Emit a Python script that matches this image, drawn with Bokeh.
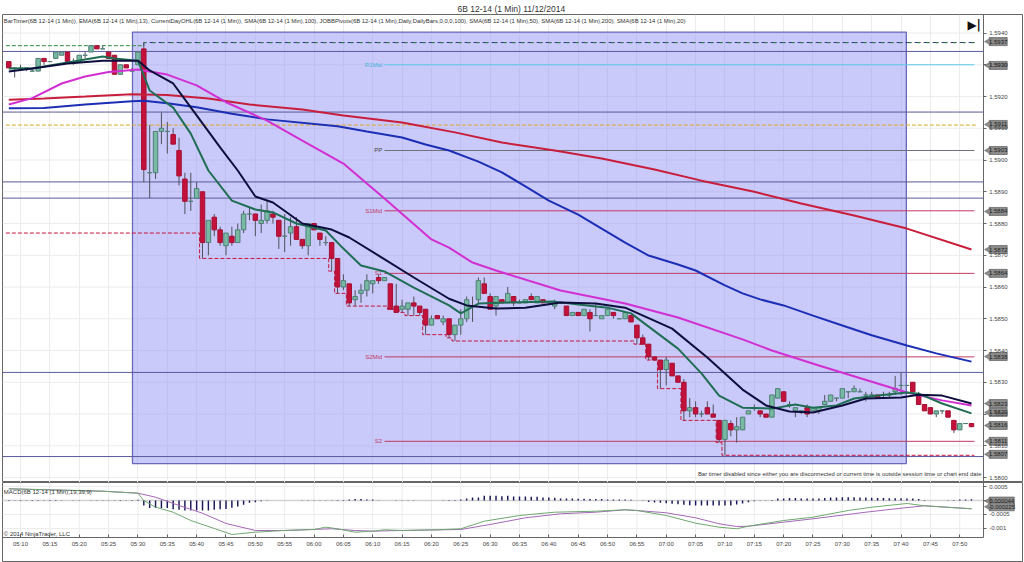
from math import pi
from bokeh.plotting import figure
from bokeh.layouts import column
from bokeh.models import ColumnDataSource, FixedTicker, LinearAxis, Range1d, Title, NumeralTickFormatter
from bokeh.core.properties import value
from bokeh.embed import file_html
from bokeh.resources import INLINE

# ---------- data: prices are in pips above 1.5800 ----------
BASE = 1.58
bar_open = [131,129,129,129,128,128,132,131,132,133,134,131,131,133,134,136,135,134,133,127,130,128,130,
 135,96,96,109,109,108,103,94,87,88,90,74,82,78,73,76,74,78,83,83,80,81,83,81,76,77,79,75,73,80,77,74,74,69,
 60,61,56,58,59,61,63,62,61,54,53,53,55,54,53,48,51,49,50,45,48,50,54,56,61,57,54,56,55,57,55,55,57,55,56,55,
 54,55,54,51,52,51,52,51,50,51,52,50,50,51,48,44,42,38,37,34,36,32,30,21,22,20,22,20,18,12,17,15,15,20,22,21,
 20,19,25,27,23,21,21,22,21,21,23,24,25,25,27,27,27,26,26,26,26,26,27,29,29,30,26,23,22,20,21,21,18,15,17,17]
bar_high = [131,129,130,129,129,132,132,131,134,134,134,132,133,134,136,136,136,134,133,130,130,129,134,
 137,111,109,115,112,110,107,96,96,93,90,81,83,79,77,79,80,84,85,83,86,87,84,81,83,82,82,75,80,80,77,76,74,69,
 64,61,59,61,64,62,64,63,61,61,56,55,57,54,53,51,51,51,50,48,53,57,57,63,63,58,57,56,60,57,56,56,58,57,56,55,
 56,55,54,52,52,53,53,55,51,53,52,50,52,51,48,45,42,38,37,38,36,32,31,25,24,21,24,23,18,18,18,19,19,21,23,21,
 20,26,28,27,24,22,21,23,22,22,26,26,25,28,27,29,28,27,27,26,27,27,32,33,29,30,27,23,22,21,21,21,18,17,17,17]
bar_low = [129,126,128,128,128,128,130,131,132,133,131,130,131,132,134,135,135,132,127,127,129,128,130,
 93,88,94,105,102,105,92,83,84,88,69,70,76,73,70,73,74,77,81,76,77,80,80,72,71,73,75,72,70,78,73,73,65,58,
 59,54,54,55,57,58,61,62,53,52,52,51,51,51,45,48,50,48,44,43,45,49,49,55,58,53,51,55,55,54,55,55,56,55,55,55,
 53,55,51,51,51,51,46,51,50,51,50,50,50,49,42,42,37,37,28,29,32,30,18,19,19,19,20,19,11,7,13,11,15,20,21,19,
 19,19,25,24,22,19,20,19,21,20,23,24,24,25,25,27,27,24,26,25,25,25,26,26,29,27,23,21,20,19,20,19,14,15,17,16]
bar_close = [129,129,129,129,128,132,131,131,134,134,131,131,133,133,136,135,135,132,127,130,129,128,134,
 97,96,109,110,109,105,95,87,87,91,74,81,78,74,77,74,78,83,83,81,81,84,82,76,76,79,75,73,80,78,75,74,69,60,
 62,55,57,59,62,62,62,63,53,52,54,55,54,52,48,50,50,50,45,48,50,56,54,62,58,53,57,55,58,55,55,56,56,57,55,55,
 55,55,51,52,51,53,50,51,51,53,51,50,52,49,44,42,38,37,34,37,32,30,21,22,20,20,20,19,12,18,15,16,19,21,22,20,
 19,26,28,24,23,22,21,20,22,22,24,26,25,28,27,28,27,26,26,25,26,26,28,29,29,27,23,21,20,21,21,19,15,17,17,16]

ema13_x = [0,4,10,16,18,22,23,24,28,31,34,38,42,45,49,54,57,60,64,69,75,77,80,85,93,97,102,106,114,118,121,125,130,134,137,141,144,148,153,155,159,164]
ema13_y = [128.8,128.8,130.7,132.6,132,131.3,126.6,121.9,116.5,108.3,96.7,87.2,84.4,83.5,80,77.8,72.1,66.8,64.9,59.8,54.2,51.7,54.8,55.1,55.4,54.5,53.5,51.7,40.6,32.8,25.8,22,21.7,23,22,22.7,24.9,25.8,26.8,26.4,23.3,20.2]
sma20_x = [0,4,10,16,22,24,28,31,36,39,42,45,50,55,58,63,69,75,78,83,88,94,100,105,113,119,125,129,133,137,142,146,152,155,159,164]
sma20_y = [127.9,128.8,130.4,131.3,131.3,128.2,124.1,116.6,104,96.7,88.5,86.6,80,78.1,75.6,69.9,63,56.3,54.2,53.2,53.5,55.1,54.8,53.5,46.9,37.8,27.7,22.7,20.8,20.5,22.7,24.9,25.2,26.1,25.8,23.3]
sma50_x = [0,4,9,13,17,22,27,32,37,44,50,57,64,72,75,79,83,94,105,114,125,130,138,148,153,159,164]
sma50_y = [117.5,119.5,124.1,126.3,127.7,128.5,126.9,123.5,118.2,112.4,106.1,98.9,87.9,75,72.4,67.7,65.2,58.9,54.8,50.4,43.5,40,35.3,29.6,26.8,24.3,22.7]
sma100_x = [0,6,13,21,27,34,41,50,57,67,76,84,93,101,110,118,127,135,144,153,164]
sma100_y = [119,119.4,120,120.7,120.5,119.4,117.5,115.9,114,111.8,108.7,105.5,103,100.5,97,93.5,90,86.3,82.5,78.4,71.8]
sma200_x = [0,6,13,21,23,27,32,38,44,56,61,67,71,75,80,84,88,92,97,101,105,109,114,117,122,125,128,132,137,142,147,153,158,164]
sma200_y = [116.3,116.4,117.5,118.5,118.7,117.9,116.6,114.6,112.8,110.6,109,107.1,104.9,103,99.5,96.1,91.7,87.2,82.8,78.4,74,69.9,67.1,65.2,60.5,58,56.1,54.2,51,47.9,44.8,41.6,39.1,36.5]

pivot_names = ["R1Mid", "PP", "S1Mid", "S1", "S2Mid", "S2"]
pivot_levels = [130, 103, 84, 64.3, 38, 11.4]
pivot_colors = ["#5cc8e6", "#707078", "#c23a62", "#c23a62", "#c23a62", "#c23a62"]
pivot_text_colors = ["#45b4d8", "#444444", "#c23a62", "#c23a62", "#c23a62", "#c23a62"]

day_low_x = [-0.5,32.5,54.5,55.5,57.5,64.5,66.5,67.5,70.5,74.5,75.5,106.5,108.5,110.5,114.5,120.5,121.5,164.5]
day_low_y = [77,69,65,58,54,53,52,51,45,44,43,42,37,28,18,11,7,7]
orange_level = 111
session_lines = [134.2, 115.1, 93.1, 88, 33.1, 6.6]

box_left = [21.07]
box_right = [152.9]
box_top = [140.3]
box_bottom = [4.4]

price_ticks = [140,130,120,110,100,90,80,70,60,50,40,30,20,10,0]
time_ticks = list(range(2, 163, 5))
time_labels = ["05:10","05:15","05:20","05:25","05:30","05:35","05:40","05:45","05:50","05:55",
               "06:00","06:05","06:10","06:15","06:20","06:25","06:30","06:35","06:40","06:45","06:50","06:55",
               "07:00","07:05","07:10","07:15","07:20","07:25","07:30","07:35","07:40","07:45","07:50"]
marker_pips = [137.3,129.8,111.2,103,83.8,71.8,64.3,38.1,23.3,20.5,16.4,11.4,7.3]
marker_labels = ["1.5937","1.5930","1.5911","1.5903","1.5884","1.5872","1.5864","1.5838","1.5823","1.5820","1.5816","1.5811","1.5807"]

# MACD panel: values in units of 1e-5
macd_x = [0,16,22,23,25,28,31,35,38,42,47,52,54,56,59,62,64,67,73,77,81,87,93,100,105,107,112,117,121,124,126,132,137,143,147,153,156,164]
macd_y = [41.8,33.2,26.1,0,-23.9,-41.8,-71.4,-100,-121.4,-113.2,-107.1,-103.6,-95.3,-101,-113.2,-109.6,-104.6,-107.1,-104.6,-101,-73.9,-53.6,-41.8,-38.2,-33.2,-35.7,-53.6,-81,-95.3,-101,-91.8,-71.4,-59.6,-35.7,-23.9,-10.7,-18.9,-29.6]
signal_x = [0,16,22,25,29,33,37,42,47,55,59,62,67,77,82,88,94,100,105,107,112,117,121,124,126,132,137,146,152,156,164]
signal_y = [41.8,33.2,26.1,11.8,-17.9,-45.4,-82.1,-107.1,-107.1,-101,-107.1,-109.6,-107.1,-103.6,-85.7,-61.8,-47.5,-41.8,-33.2,-35.7,-43.9,-61.8,-83.2,-92.9,-91.8,-77.5,-65.4,-41.8,-27.5,-18.9,-29.6]
macd_hist = [2,1,2,1,2,2,1,2,2,1,0,1,1,0,1,1,1,1,1,2,1,2,3,
 -18,-27,-27,-27,-27,-31,-33,-36,-36,-36,-36,-36,-33,-31,-30,-26,-21,-15,-8,-6,-2.5,
 -1,0,0,0,0,0,1,1,1,1,1,1,2,
 2,4,5,5,4,4,
 1,0,0,1,1,1,1,0,0,0,0,
 1,2,2,4,
 7,11,11,17,17,17,15,17,14,14,14,13,13,11,11,10,7,7,7,6,6,5,5,5,4,4,4,4,2.5,
 0,-1,-5,-7,-8,-10,-12,-13,-15,-17,-18,-18,-18,-18,-18,-18,-18,-14,-11,-6,-2.5,-1,1,
 2,7,7,9,9,7,7,7,7,9,11,11,12,12,12,11,11,10,9,9,8,8,8,7,7,5,2,0,0,0,1,2,4,4,4.4]
macd_ticks = [50,0,-50,-100]
macd_tick_labels = ["0.0005","0","-0.0005","-0.001"]
macd_marker_vals = [-2,-22.5]
macd_marker_labels = ["0.000044","-0.000225"]

title_text = "6B 12-14 (1 Min)  11/12/2014"
indicators = ("BarTimer(6B 12-14 (1 Min)), EMA(6B 12-14 (1 Min),13), CurrentDayOHL(6B 12-14 (1 Min)), "
              "SMA(6B 12-14 (1 Min),100), JOBBPivots(6B 12-14 (1 Min),Daily,DailyBars,0,0,0,100), "
              "SMA(6B 12-14 (1 Min),50), SMA(6B 12-14 (1 Min),200), SMA(6B 12-14 (1 Min),20)")
notice = "Bar timer disabled since either you are disconnected or current time is outside session time or chart end date"

# ---------- scales ----------
FONT = value("Liberation Sans")
def P(v):
    return [BASE + a / 1e4 for a in v]
X0, X1 = -1.073, 172.69          # frame edge positions in bar numbers
AXIS_X = 166.0                   # where the price axis stands
GRID_C = "#ececec"
xr = Range1d(X0, X1)

p = figure(width=1024, height=482, x_range=xr, y_range=Range1d(1.579843, 1.594583),
           x_axis_location=None, y_axis_location=None, toolbar_location=None,
           output_backend="svg", min_border_left=2, min_border_right=2, min_border_top=14,
           min_border_bottom=0, background_fill_color="white")
p.add_layout(Title(text=title_text, align="center", offset=-2, text_font_size="8.5px",
                   text_font="Liberation Sans", text_font_style="normal", text_color="#333333",
                   standoff=2), "above")
p.outline_line_color = "#666666"
p.xgrid.ticker = FixedTicker(ticks=time_ticks)
p.xgrid.grid_line_color = GRID_C
p.ygrid.visible = False
p.segment(x0=[X0]*len(price_ticks), x1=[AXIS_X]*len(price_ticks), y0=P(price_ticks), y1=P(price_ticks),
          line_color=GRID_C, line_width=1)

p.quad(left=box_left, right=box_right, top=P(box_top), bottom=P(box_bottom),
       fill_color="#8f8ff5", fill_alpha=0.48, line_color="#6a6abc", line_width=1.3)

p.segment(x0=[X0]*len(session_lines), x1=[AXIS_X]*len(session_lines), y0=P(session_lines), y1=P(session_lines),
          line_color="#5a5a9c", line_width=1)

# pivots
end_x = 164.5
p.segment(x0=[64]*6, x1=[end_x]*6, y0=P(pivot_levels), y1=P(pivot_levels), line_color=pivot_colors, line_width=1)
p.text(x=[63.6]*6, y=P(pivot_levels), text=pivot_names, text_color=pivot_text_colors, text_align="right",
       text_baseline="middle", text_font=FONT, text_font_size=value("6px"))

# current day high / low / yesterday levels
p.line(x=[-0.5, 23], y=P([136, 136]), line_color="#2e8b3a", line_dash="4 2", line_width=1)
p.line(x=[23, 23, end_x + .5], y=P([136, 137, 137]), line_color="#2a3c80", line_dash="6 3", line_width=1)
p.line(x=[23, end_x + .5], y=P([137, 137]), line_color="#2e8b3a", line_dash="2 7", line_width=1.2)
p.line(x=[-0.5, end_x + .5], y=P([orange_level]*2), line_color="#dca828", line_dash="4 2", line_width=1)
p.step(x=day_low_x, y=P(day_low_y), mode="after", line_color="#c8143c", line_dash="4 2", line_width=1)

# candles
n = len(bar_close)
xs = list(range(n))
up = [c >= o for o, c in zip(bar_open, bar_close)]
src = ColumnDataSource(dict(
    x=xs, high=P(bar_high), low=P(bar_low),
    top=P([max(o, c) for o, c in zip(bar_open, bar_close)]),
    bottom=P([min(o, c) for o, c in zip(bar_open, bar_close)]),
    fill=["#78b9a3" if u else "#c4113b" for u in up],
    edge=["#4f7f76" if u else "#a50f32" for u in up]))
p.segment(x0="x", x1="x", y0="low", y1="high", source=src, line_color="#50505c", line_width=1)
p.vbar(x="x", width=0.76, top="top", bottom="bottom", source=src, fill_color="fill", line_color="edge", line_width=1)

# averages
p.line(sma200_x, P(sma200_y), line_color="#1c2fb4", line_width=2)
p.line(sma100_x, P(sma100_y), line_color="#c81e3c", line_width=2)
p.line(sma50_x, P(sma50_y), line_color="#d22fd2", line_width=2)
p.line(ema13_x, P(ema13_y), line_color="#1f6e54", line_width=2)
p.line(sma20_x, P(sma20_y), line_color="#0e0e3c", line_width=2)

# texts inside the frame
p.text(x=[-0.85], y=P([143.8]), text=[indicators], text_color="#333333", text_baseline="middle",
       text_font=FONT, text_font_size=value("5.9px"))
p.text(x=[165.7], y=P([1.0]), text=[notice], text_color="#333333", text_align="right", text_baseline="middle",
       text_font=FONT, text_font_size=value("5.9px"))
p.text(x=[163.3], y=P([142.6]), text=["\u25B6|"], text_color="#111111", text_baseline="middle",
       text_font=value("DejaVu Sans"), text_font_size=value("12px"), text_font_style="bold")

# price axis
ax = LinearAxis(fixed_location=AXIS_X, ticker=FixedTicker(ticks=P(price_ticks)),
                formatter=NumeralTickFormatter(format="0.0000"))
ax.axis_line_color = "#666666"
ax.major_tick_line_color = "#666666"
ax.major_tick_in = 0
ax.major_tick_out = 3
ax.minor_tick_line_color = None
ax.major_label_standoff = 3
ax.major_label_text_font = "Liberation Sans"
ax.major_label_text_font_size = "6px"
ax.major_label_text_color = "#444444"
p.add_layout(ax, "right")

# price tags
TAG_X, TIP_X = 168.55, 166.9
p.rect(x=[TAG_X]*len(marker_pips), y=P(marker_pips), width=18, height=8, width_units="screen", height_units="screen",
       fill_color="#8c8c8c", line_color="#5c5c5c", line_width=0.7)
p.scatter(x=[TIP_X]*len(marker_pips), y=P(marker_pips), marker="triangle", size=7, angle=pi/2,
          fill_color="#8c8c8c", line_color="#5c5c5c", line_width=0.5)
p.text(x=[TAG_X]*len(marker_pips), y=P(marker_pips), text=marker_labels, text_align="center", text_baseline="middle",
       text_color="#222222", text_font=FONT, text_font_size=value("6px"))

# ---------- MACD panel ----------
M = 1e-5
def V(v):
    return [a * M for a in v]
AX_Y = -132.0      # where the time axis stands
p2 = figure(width=1024, height=80, x_range=xr, y_range=Range1d(-217.9e-5, 64.3e-5),
            x_axis_location=None, y_axis_location=None, toolbar_location=None, output_backend="svg",
            min_border_left=2, min_border_right=2, min_border_top=0, min_border_bottom=1)
p2.outline_line_color = "#666666"
p2.grid.visible = False
p2.segment(x0=time_ticks, x1=time_ticks, y0=[64.3e-5]*len(time_ticks), y1=[AX_Y*M]*len(time_ticks), line_color=GRID_C)
p2.segment(x0=[X0]*4, x1=[AXIS_X]*4, y0=V(macd_ticks), y1=V(macd_ticks), line_color=GRID_C)
p2.line(x=[X0, AXIS_X], y=[0, 0], line_color="#d2d2d2", line_width=1.6)
p2.vbar(x=list(range(len(macd_hist))), width=0.25, top=V(macd_hist), bottom=0, fill_color="#1a1a5a", line_color=None)
p2.line(signal_x, V(signal_y), line_color="#a468b8", line_width=1)
p2.line(macd_x, V(macd_y), line_color="#6fa870", line_width=1)
p2.text(x=[-0.85], y=[32e-5], text=["MACD(6B 12-14 (1 Min),19,39,9)"], text_color="#333333", text_baseline="middle",
        text_font=FONT, text_font_size=value("6px"))
p2.text(x=[-0.85], y=[-121e-5], text=["\u00A9 2014 NinjaTrader, LLC"], text_color="#333333", text_baseline="middle",
        text_font=FONT, text_font_size=value("6px"))

ay2 = LinearAxis(fixed_location=AXIS_X, ticker=FixedTicker(ticks=V(macd_ticks)), bounds=(AX_Y*M, 64.3e-5),
                 major_label_overrides={t*M: l for t, l in zip(macd_ticks, macd_tick_labels)})
ax2 = LinearAxis(fixed_location=AX_Y*M, ticker=FixedTicker(ticks=time_ticks), bounds=(X0, AXIS_X),
                 major_label_overrides=dict(zip(time_ticks, time_labels)))
for a in [ay2, ax2]:
    a.axis_line_color = "#666666"
    a.major_tick_line_color = "#666666"
    a.minor_tick_line_color = None
    a.major_label_text_font = "Liberation Sans"
    a.major_label_text_font_size = "6px"
    a.major_label_text_color = "#444444"
ay2.major_tick_in = 0; ay2.major_tick_out = 3; ay2.major_label_standoff = 3
ax2.major_tick_in = 3; ax2.major_tick_out = 0; ax2.major_label_standoff = 4
p2.add_layout(ay2, "right")
p2.add_layout(ax2, "below")

p2.rect(x=[TAG_X+0.6]*2, y=V(macd_marker_vals), width=25, height=8, width_units="screen", height_units="screen",
        fill_color="#8c8c8c", line_color="#5c5c5c", line_width=0.7)
p2.scatter(x=[TIP_X]*2, y=V(macd_marker_vals), marker="triangle", size=7, angle=pi/2,
           fill_color="#8c8c8c", line_color="#5c5c5c", line_width=0.5)
p2.text(x=[TAG_X+0.6]*2, y=V(macd_marker_vals), text=macd_marker_labels, text_align="center", text_baseline="middle",
        text_color="#222222", text_font=FONT, text_font_size=value("6px"))

layout = column(p, p2, spacing=0)
layout.styles = {"position": "absolute", "left": "0px", "top": "0px"}

open("out.html", "w").write(file_html(layout, INLINE))
